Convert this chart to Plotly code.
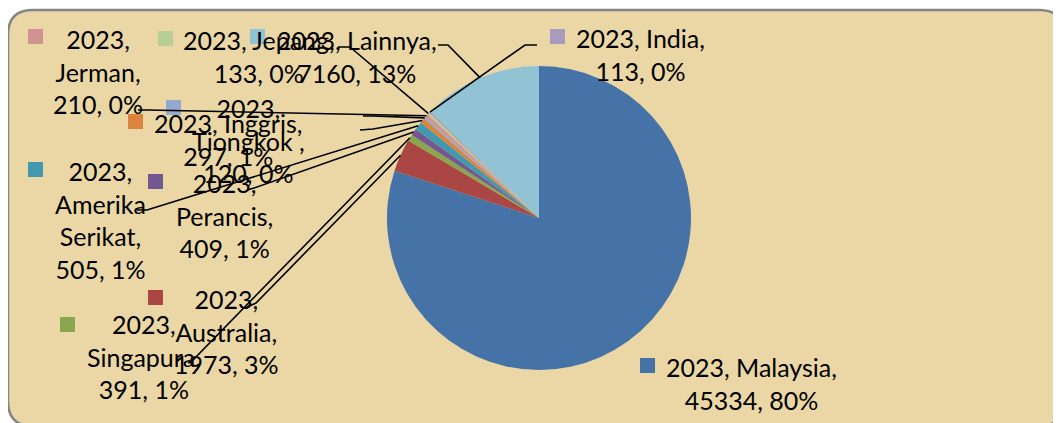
import math
import plotly.graph_objects as go

# page has an 8px body margin: the figure is sized to fit the 1061x423 window
OFF = 8
W, H = 1061 - OFF, 423 - OFF

# ---- data ----
year = "2023"
names = ["Malaysia", "Australia", "Singapura", "Perancis", "Amerika Serikat",
         "Inggris", "Tiongkok ", "Jerman", "Jepang", "India", "Lainnya"]
values = [45334, 1973, 391, 409, 505, 297, 120, 210, 133, 113, 7160]
colors = ["#4572A7", "#AA4643", "#89A54E", "#71588F", "#4198AF", "#DB843D",
          "#93A9CF", "#D19392", "#B9CD96", "#A99BBD", "#91C3D5"]

# ---- label layout (window pixel positions) ----
wrap = ["one", "sep", "sep", "sep", "sep", "one", "sep", "sep", "one", "one", "one"]
label_cx = [751, 226, 144, 224, 100, 228, 248, 98, 259, 640, 357]
label_cy = [383.5, 331.5, 356.5, 215, 220, 139, 140.5, 71, 56, 55, 56]
key_xy = [(640, 358), (148, 290), (60, 317), (148, 174), (28, 162), (128, 114),
          (166, 100), (28, 29), (158, 31), (550, 29), (250, 29)]
leader_start = [None,
                [(247, 307), (256, 303)],
                [(188, 363), (192, 361)],
                [(247, 190), (254, 188)],
                [(137, 210), (147, 210)],
                [(360, 130), (373, 129)],
                [(363, 116), (373, 116)],
                [(138, 110), (148, 110)],
                [(338, 47), (350, 47)],
                [(537, 45), (525, 45)],
                [(438, 45), (448, 45)]]

CX, CY, R = 539, 218, 152
FONT = "Lato, 'Open Sans', sans-serif"
FS = 25


def px(x):
    return (x - OFF) / W


def py(y):
    return 1 - (y - OFF) / H


total = sum(values)

fig = go.Figure()
fig.add_trace(go.Pie(
    values=values, labels=names, sort=False, direction="clockwise", rotation=0,
    marker=dict(colors=colors, line=dict(width=0)),
    textinfo="none", hoverinfo="label+value+percent", showlegend=False,
    domain=dict(x=[px(CX - R), px(CX + R)], y=[py(CY + R), py(CY - R)]),
))

shapes = []
# background rounded panel
x0, y0, x1, y1, rr = 8, 10, 1064, 426, 25
path = (f"M {px(x0+rr)},{py(y0)} L {px(x1-rr)},{py(y0)} Q {px(x1)},{py(y0)} {px(x1)},{py(y0+rr)} "
        f"L {px(x1)},{py(y1-rr)} Q {px(x1)},{py(y1)} {px(x1-rr)},{py(y1)} "
        f"L {px(x0+rr)},{py(y1)} Q {px(x0)},{py(y1)} {px(x0)},{py(y1-rr)} "
        f"L {px(x0)},{py(y0+rr)} Q {px(x0)},{py(y0)} {px(x0+rr)},{py(y0)} Z")
shapes.append(dict(type="path", xref="paper", yref="paper", path=path,
                   fillcolor="#EAD7A5", line=dict(color="#858585", width=2.5), layer="below"))

annotations = []
cum = 0
for i, (n, v) in enumerate(zip(names, values)):
    frac = v / total
    mid = cum + frac / 2
    cum += frac
    pct = int(frac * 100 + 0.5)
    if wrap[i] == "one":
        text = f"{year}, {n},<br>{v}, {pct}%"
    elif n.endswith(" "):
        text = f"{year},<br>{n},<br>{v}, {pct}%"
    else:
        text = f"{year},<br>" + n.replace(" ", "<br>", 1) + f",<br>{v}, {pct}%"
    annotations.append(dict(x=px(label_cx[i]), y=py(label_cy[i]), xref="paper", yref="paper",
                            text=text, showarrow=False, xanchor="center", yanchor="middle",
                            align="center", font=dict(family=FONT, size=FS, color="black")))
    kx, ky = key_xy[i]
    shapes.append(dict(type="rect", xref="paper", yref="paper",
                       x0=px(kx), x1=px(kx + 15), y0=py(ky), y1=py(ky + 15),
                       fillcolor=colors[i], line=dict(width=0)))
    if leader_start[i]:
        ang = 2 * math.pi * mid
        ex = CX + R * math.sin(ang)
        ey = CY - R * math.cos(ang)
        pts = leader_start[i] + [(ex, ey)]
        p = "M " + " L ".join(f"{px(a)},{py(b)}" for a, b in pts)
        shapes.append(dict(type="path", xref="paper", yref="paper", path=p,
                           line=dict(color="black", width=1.6), layer="above"))

fig.update_layout(
    width=W, height=H, margin=dict(l=0, r=0, t=0, b=0),
    paper_bgcolor="white", plot_bgcolor="rgba(0,0,0,0)",
    shapes=shapes, annotations=annotations, showlegend=False,
)
fig.write_html("out.html")
